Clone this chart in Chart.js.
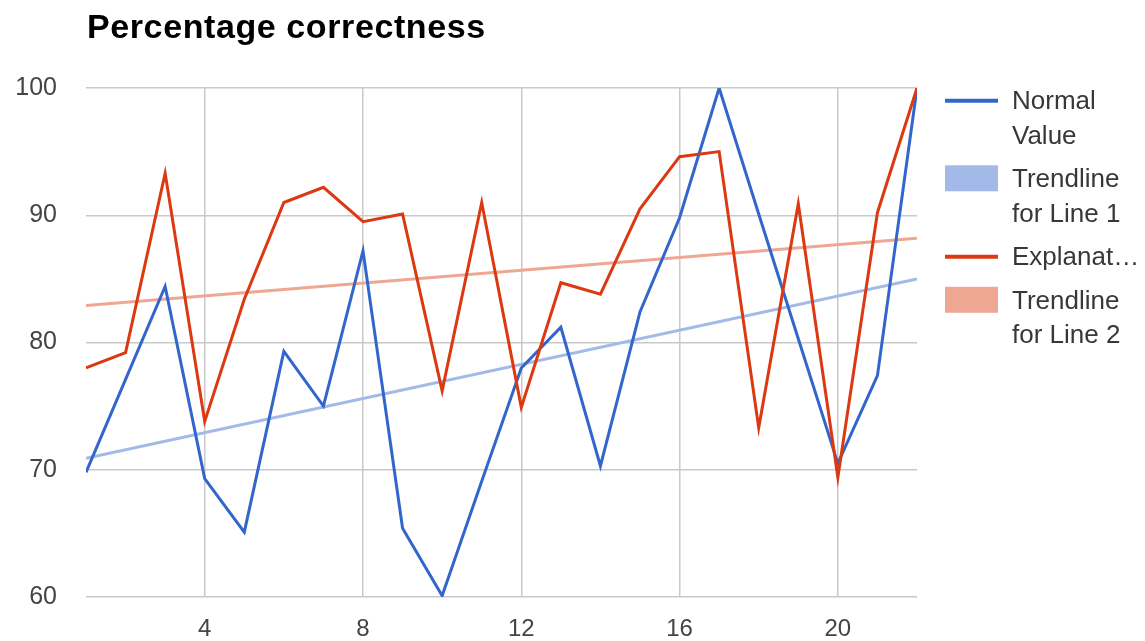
<!DOCTYPE html>
<html>
<head>
<meta charset="utf-8">
<title>Percentage correctness</title>
<script src="https://cdn.jsdelivr.net/npm/chart.js@4/dist/chart.umd.min.js"></script>
<style>
  html, body { margin: 0; padding: 0; background: #ffffff; }
  #wrap { width: 1145px; height: 641px; }
</style>
</head>
<body>
<div id="wrap"><canvas id="chart" width="1145" height="641"></canvas></div>
<script>
// Question number along the x axis
const questions = [1, 2, 3, 4, 5, 6, 7, 8, 9, 10, 11, 12, 13, 14, 15, 16, 17, 18, 19, 20, 21, 22];

// Percentage correct for each question
const normalValue = [69.8, 77.1, 84.4, 69.3, 65.1, 79.3, 75.0, 87.2, 65.4, 60.1, 69.1,
                     78.0, 81.2, 70.3, 82.4, 89.8, 100, 90.1, 80.3, 70.5, 77.4, 100];
const explanation = [78.0, 79.2, 93.3, 73.8, 83.4, 91.0, 92.2, 89.5, 90.1, 76.2, 91.0,
                     74.9, 84.7, 83.8, 90.5, 94.6, 95.0, 73.3, 90.9, 69.4, 90.2, 100];

// Linear trendlines, given by their end points
const trendX = [1, 22];
const trendLine1 = [70.9, 85.0];
const trendLine2 = [82.9, 88.2];

// Axis ticks
const xTicks = [4, 8, 12, 16, 20];
const yTicks = [60, 70, 80, 90, 100];

const chartTitle = 'Percentage correctness';
const seriesNames = ['Normal Value', 'Trendline for Line 1', 'Explanat\u2026', 'Trendline for Line 2'];

const toPoints = (xs, ys) => xs.map((x, i) => ({ x: x, y: ys[i] }));

const FONT = '"Liberation Sans", Arial, Helvetica, sans-serif';

// Title drawn flush with the left edge of the plot area
const titlePlugin = {
  id: 'plotTitle',
  afterDraw(chart) {
    const ctx = chart.ctx;
    ctx.save();
    ctx.font = 'bold 34px ' + FONT;
    if ('letterSpacing' in ctx) ctx.letterSpacing = '0.6px';
    ctx.fillStyle = '#000000';
    ctx.textAlign = 'left';
    ctx.textBaseline = 'alphabetic';
    ctx.fillText(chartTitle, chart.chartArea.left + 1, 38);
    ctx.restore();
  }
};

// Legend on the right, with labels wrapped onto several lines
const sideLegendPlugin = {
  id: 'sideLegend',
  afterDraw(chart) {
    const ctx = chart.ctx;
    const markX = chart.chartArea.right + 28;
    const markW = 53;
    const textX = markX + 67;
    const maxW = chart.width - textX - 2;
    const lineH = 34.5;
    const entryGap = 43.5;
    ctx.save();
    ctx.font = '26px ' + FONT;
    ctx.textAlign = 'left';
    ctx.textBaseline = 'alphabetic';
    let base = 109.3;
    chart.data.datasets.forEach((ds) => {
      // wrap the label
      const words = ds.label.split(' ');
      const lines = [];
      let cur = '';
      words.forEach((w) => {
        const test = cur ? cur + ' ' + w : w;
        if (cur && ctx.measureText(test).width > maxW) {
          lines.push(cur);
          cur = w;
        } else {
          cur = test;
        }
      });
      if (cur) lines.push(cur);

      if (ds.isTrend) {
        ctx.fillStyle = ds.borderColor;
        ctx.fillRect(markX, base - 22, markW, 26);
      } else {
        ctx.strokeStyle = ds.borderColor;
        ctx.lineWidth = 4;
        ctx.beginPath();
        ctx.moveTo(markX, base - 8.5);
        ctx.lineTo(markX + markW, base - 8.5);
        ctx.stroke();
      }
      ctx.fillStyle = '#383838';
      lines.forEach((ln, i) => ctx.fillText(ln, textX, base + i * lineH));
      base += (lines.length - 1) * lineH + entryGap;
    });
    ctx.restore();
  }
};

const blue = '#3366cc';
const red = '#dc3912';
const blueTrend = '#a3bae8';
const redTrend = '#efa794';

new Chart(document.getElementById('chart'), {
  type: 'line',
  data: {
    datasets: [
      {
        label: seriesNames[0],
        data: toPoints(questions, normalValue),
        borderColor: blue,
        borderWidth: 3,
        pointRadius: 0,
        tension: 0,
        order: 1
      },
      {
        label: seriesNames[1],
        data: toPoints(trendX, trendLine1),
        borderColor: blueTrend,
        borderWidth: 3,
        pointRadius: 0,
        tension: 0,
        isTrend: true,
        order: 3
      },
      {
        label: seriesNames[2],
        data: toPoints(questions, explanation),
        borderColor: red,
        borderWidth: 3,
        pointRadius: 0,
        tension: 0,
        order: 0
      },
      {
        label: seriesNames[3],
        data: toPoints(trendX, trendLine2),
        borderColor: redTrend,
        borderWidth: 3,
        pointRadius: 0,
        tension: 0,
        isTrend: true,
        order: 2
      }
    ]
  },
  options: {
    responsive: false,
    animation: false,
    events: [],
    layout: { padding: { top: 88, right: 228, left: 0, bottom: 0 } },
    plugins: {
      legend: { display: false },
      title: { display: false },
      tooltip: { enabled: false }
    },
    scales: {
      x: {
        type: 'linear',
        min: questions[0],
        max: questions[questions.length - 1],
        afterBuildTicks: (scale) => { scale.ticks = xTicks.map((v) => ({ value: v })); },
        afterFit: (scale) => { scale.height = 43; },
        border: { display: false },
        grid: { color: '#c9c9c9', lineWidth: 1.5, drawTicks: false },
        ticks: {
          padding: 18,
          color: '#444444',
          font: { family: FONT, size: 24 },
          maxRotation: 0,
          autoSkip: false
        }
      },
      y: {
        min: yTicks[0],
        max: yTicks[yTicks.length - 1],
        afterBuildTicks: (scale) => { scale.ticks = yTicks.map((v) => ({ value: v })); },
        afterFit: (scale) => { scale.width = 86; },
        border: { display: false },
        grid: { color: '#c9c9c9', lineWidth: 1.5, drawTicks: false },
        ticks: {
          padding: 29,
          color: '#444444',
          font: { family: FONT, size: 25 }
        }
      }
    }
  },
  plugins: [titlePlugin, sideLegendPlugin]
});
</script>
</body>
</html>
